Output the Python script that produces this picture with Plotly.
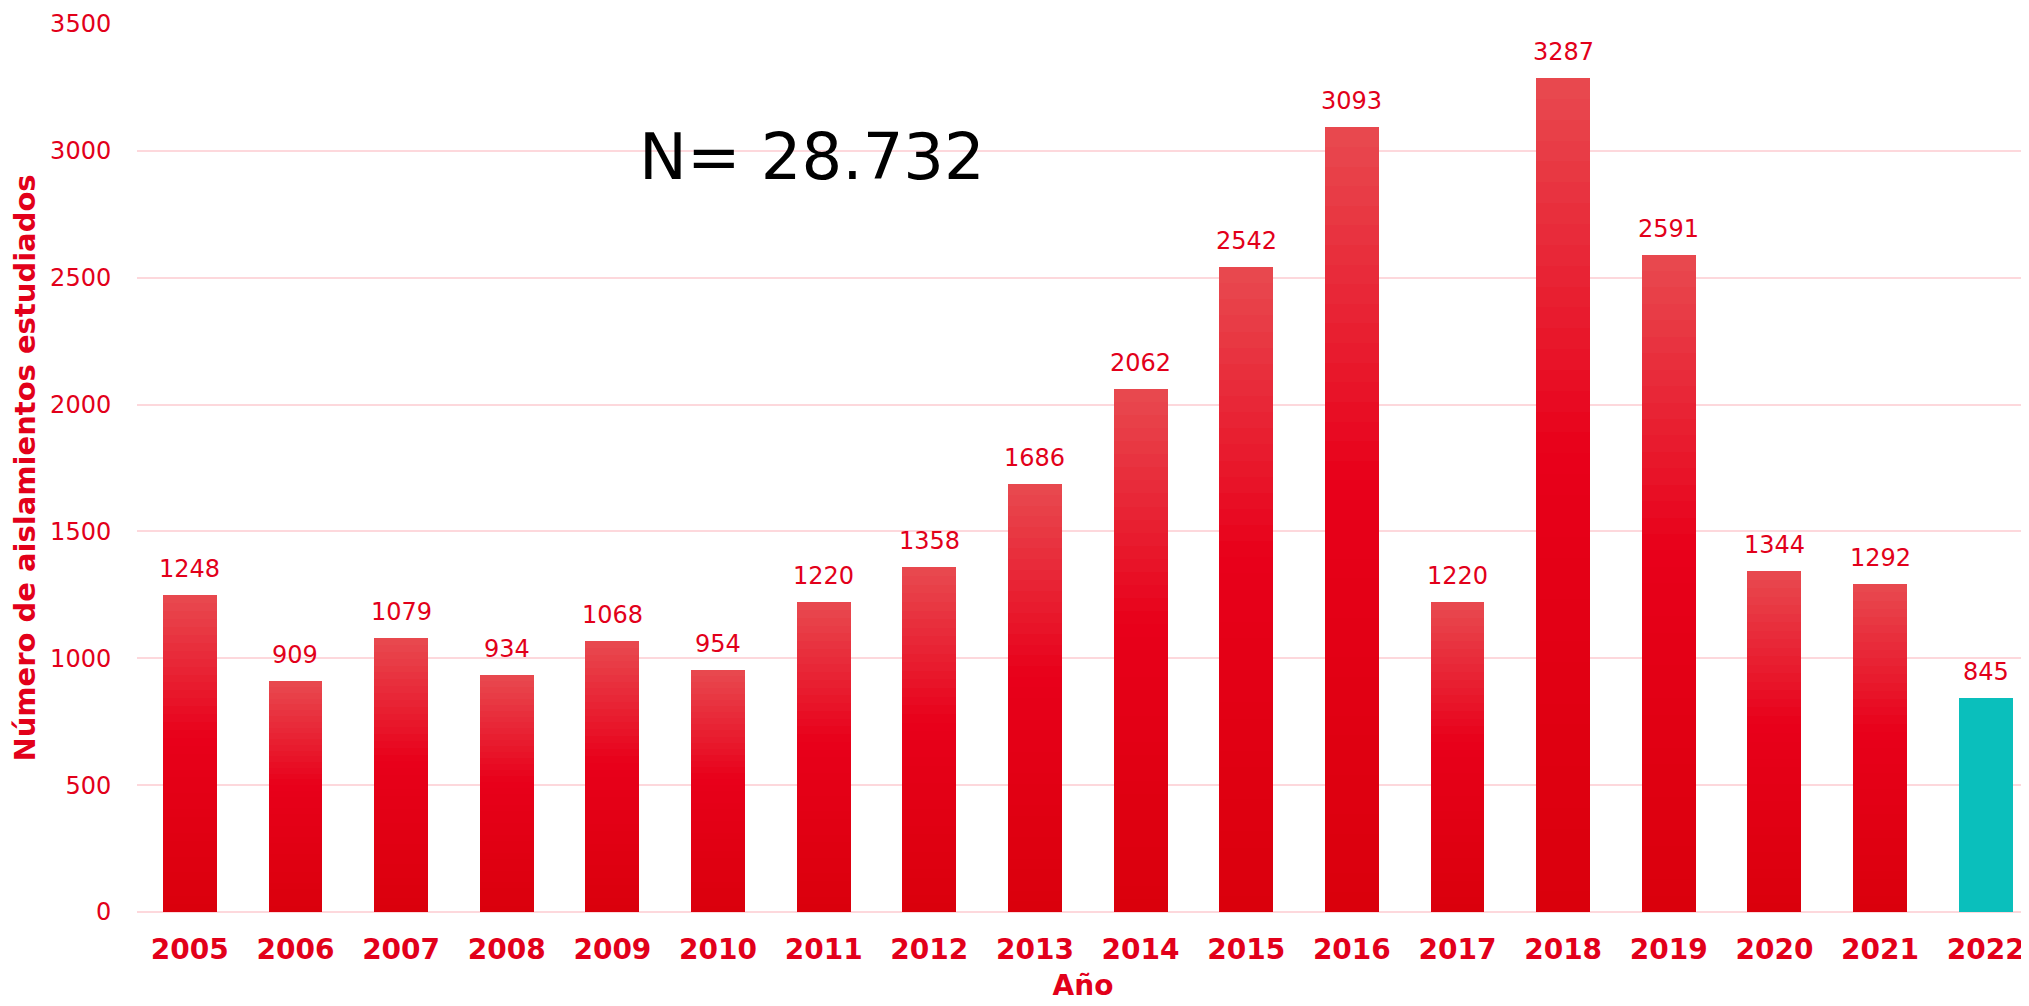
import plotly.graph_objects as go

years = ["2005", "2006", "2007", "2008", "2009", "2010", "2011", "2012", "2013",
         "2014", "2015", "2016", "2017", "2018", "2019", "2020", "2021", "2022"]
values = [1248, 909, 1079, 934, 1068, 954, 1220, 1358, 1686,
          2062, 2542, 3093, 1220, 3287, 2591, 1344, 1292, 845]
highlight_year = "2022"
y_ticks = [0, 500, 1000, 1500, 2000, 2500, 3000, 3500]

RED = "#E2001A"
TEAL = "#0ABFBC"
FONT = "DejaVu Sans"

# gradient stops (fraction from bar bottom -> rgb)
stops = [(0.0, (218, 0, 12)), (0.55, (232, 0, 26)), (1.0, (232, 74, 80))]


def grad_color(t):
    for (t0, c0), (t1, c1) in zip(stops[:-1], stops[1:]):
        if t0 <= t <= t1:
            u = (t - t0) / (t1 - t0)
            return "rgb(%d,%d,%d)" % tuple(round(a + (b - a) * u) for a, b in zip(c0, c1))
    return "rgb(%d,%d,%d)" % stops[-1][1]


fig = go.Figure()
n_layers = 40
for k in range(n_layers):
    f = 1 - k / n_layers
    col = grad_color(f - 0.5 / n_layers)
    colors = [TEAL if y == highlight_year else col for y in years]
    fig.add_trace(go.Bar(
        x=years, y=[v * f for v in values], width=0.51,
        marker=dict(color=colors, line=dict(width=0)),
        hoverinfo="skip", showlegend=False,
    ))

for i, v in enumerate(values):
    fig.add_annotation(x=i, y=v, text=str(v), showarrow=False, yanchor="bottom",
                       yshift=10, font=dict(family=FONT, size=24, color=RED))

fig.add_annotation(x=0.357, y=0.85, xref="paper", yref="paper", text="N= 28.732",
                   showarrow=False, xanchor="center", yanchor="middle",
                   font=dict(family=FONT, size=64, color="#000000"))

fig.update_layout(
    width=2021, height=998,
    margin=dict(l=129, r=0, t=16, b=94),
    barmode="overlay", bargap=0,
    plot_bgcolor="white", paper_bgcolor="white",
    font=dict(family=FONT, color=RED),
    xaxis=dict(
        type="category", range=[-0.5, 17.41],
        tickfont=dict(family=FONT, size=28, color=RED, weight="bold"),
        ticks="outside", ticklen=12, tickcolor="rgba(0,0,0,0)",
        showgrid=False, showline=False, zeroline=False,
        title=dict(text="<b>Año</b>", font=dict(family=FONT, size=28, color=RED), standoff=10),
    ),
    yaxis=dict(
        range=[0, 3500], tickvals=y_ticks,
        tickfont=dict(family=FONT, size=24, color=RED),
        ticks="outside", ticklen=20, tickcolor="rgba(0,0,0,0)",
        showgrid=True, gridcolor="#FDD8DC", gridwidth=2,
        zeroline=True, zerolinecolor="#FDD8DC", zerolinewidth=2,
        showline=False,
        title=dict(text="<b>Número de aislamientos estudiados</b>",
                   font=dict(family=FONT, size=29, color=RED), standoff=6),
    ),
)

fig.write_html("out.html")
